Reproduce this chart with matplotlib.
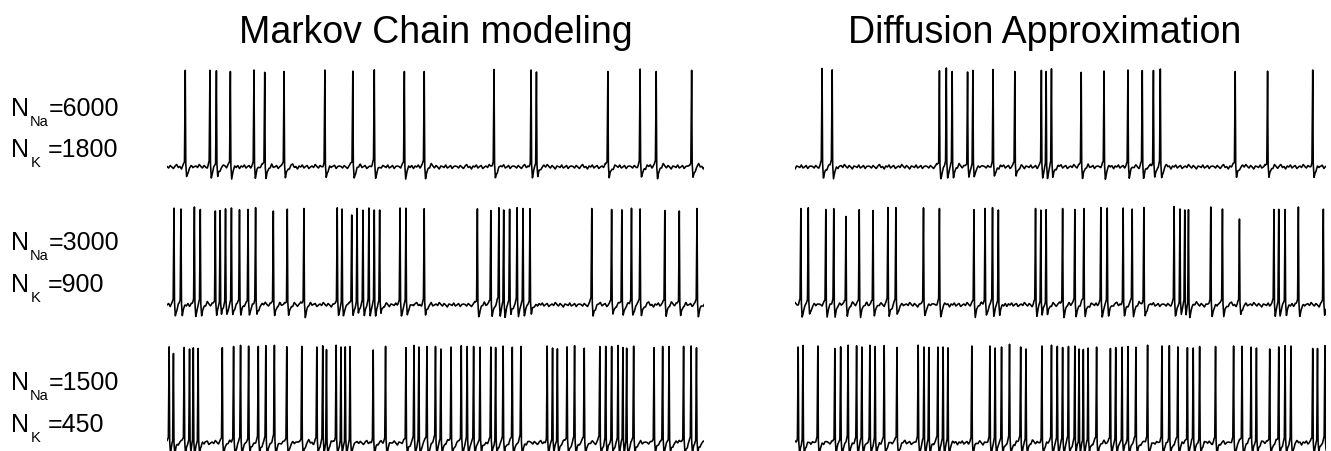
import numpy as np
import matplotlib
matplotlib.use("Agg")
import matplotlib.pyplot as plt

plt.rcParams['font.family'] = ['Liberation Sans', 'DejaVu Sans']

# spike times (ms), 1000 ms per trace
markov_6000 = [34, 80, 92, 118, 162, 182, 218, 294, 346, 386, 442, 479, 609,
               678, 688, 821, 881, 911, 977]
markov_3000 = [13, 26, 51, 62, 90, 99, 109, 120, 135, 151, 165, 198, 224, 255,
               317, 326, 344, 354, 365, 376, 386, 396, 434, 445, 479, 578, 603,
               618, 627, 638, 652, 663, 676, 791, 828, 847, 865, 881, 927, 954,
               987]
markov_1500 = [4, 12, 32, 42, 49, 58, 103, 124, 137, 152, 170, 184, 200, 223,
               251, 279, 290, 297, 315, 324, 332, 341, 384, 407, 445, 460, 469,
               484, 500, 510, 529, 548, 559, 571, 583, 603, 612, 626, 643, 659,
               708, 718, 727, 745, 759, 777, 806, 817, 828, 840, 849, 856, 869,
               907, 923, 935, 962, 976, 986]
diffusion_6000 = [51, 70, 272, 285, 296, 325, 335, 373, 414, 464, 473, 483, 539,
                  582, 627, 654, 675, 688, 829, 890, 975]
diffusion_3000 = [11, 25, 58, 73, 96, 121, 147, 175, 190, 242, 272, 337, 358,
                  372, 383, 453, 463, 473, 504, 527, 544, 576, 588, 618, 635,
                  657, 714, 725, 734, 741, 783, 805, 837, 902, 911, 923, 948, 995]
diffusion_1500 = [6, 15, 43, 75, 86, 100, 116, 126, 141, 151, 168, 192, 232, 243,
                  252, 269, 279, 288, 333, 367, 377, 389, 404, 425, 435, 465, 483,
                  494, 504, 515, 527, 535, 543, 552, 568, 594, 604, 616, 627, 642,
                  664, 691, 705, 721, 739, 750, 762, 792, 826, 842, 859, 869, 894,
                  911, 923, 934, 975, 984, 998]

# a few spikes that peak lower than the rest (time ms -> mV lower)
short_spikes = {344: 7, 96: 6, 837: 10, 12: 4, 384: 4, 575: 6}

n_na = ["6000", "3000", "1500"]
n_k = ["1800", "900", "450"]
titles = ["Markov Chain modeling", "Diffusion Approximation"]

# membrane potential shape around one spike (ms offset, mV above rest)
SPIKE_DT = [-7, -4, -1.5, 0, 1.0, 2.5, 4.5, 8, 13, 20]
SPIKE_DV = [0, 1.5, 5, 96, 2, -11, -6, -1.5, 1, 0]
REST = -65.0
# baseline jitter, hand-drawn pattern (mV)
WIGGLE = [0.5, -1.0, 1.5, 0.0, -1.5, 1.0, 2.5, -0.5, 0.5, -2.0, 1.0, 0.0,
          2.0, -1.0, 0.5, 1.5, -1.5, 0.0, 1.0, -0.5, 2.5, 0.5, -1.0, 1.5,
          0.0, -2.0, 1.0, 0.5, -0.5, 2.0, -1.0, 0.0, 1.5, -1.5, 0.5, 1.0]

t = np.arange(0, 1000.5, 0.5)


def make_trace(spikes, shift, short=None):
    knots_t = np.arange(0, 1006, 3.0)
    knots_v = np.resize(np.roll(WIGGLE, shift), len(knots_t))
    v = REST + np.interp(t, knots_t, knots_v)
    for s in spikes:
        dv = list(SPIKE_DV)
        if short and s in short:
            dv[3] -= short[s]
        v += np.interp(t - s, SPIKE_DT, dv, left=0, right=0)
    return v


W, H = 1331, 452
fig = plt.figure(figsize=(W / 100, H / 100), dpi=100)

panels = [[markov_6000, diffusion_6000],
          [markov_3000, diffusion_3000],
          [markov_1500, diffusion_1500]]
col_x = [(167, 704), (795, 1326)]
row_base = [168, 306, 444]

for r, row in enumerate(panels):
    for c, spikes in enumerate(row):
        x0, x1 = col_x[c]
        top = row_base[r] - 100
        ax = fig.add_axes([x0 / W, 1 - (top + 115) / H, (x1 - x0) / W, 115 / H])
        short = short_spikes if r > 0 else None
        ax.plot(t, make_trace(spikes, 5 * r + 11 * c, short), color='black', lw=1.15)
        ax.set_xlim(0, 1000)
        ax.set_ylim(-80, 35)
        ax.axis('off')


def px(x, y):
    return x / W, 1 - y / H


# row labels, subscripts placed by hand (baselines in pixels)
label_lines = [(116, 157), (250, 292), (390, 432)]
for r, (y1, y2) in enumerate(label_lines):
    fig.text(*px(11, y1), "N", fontsize=18, va='baseline')
    fig.text(*px(30, y1 + 10), "Na", fontsize=10.5, va='baseline')
    fig.text(*px(49, y1), "=" + n_na[r], fontsize=18, va='baseline')
    fig.text(*px(11, y2), "N", fontsize=18, va='baseline')
    fig.text(*px(31, y2 + 10), "K", fontsize=10.5, va='baseline')
    fig.text(*px(48, y2), "=" + n_k[r], fontsize=18, va='baseline')

fig.text(*px(436, 43), titles[0], fontsize=27, ha='center', va='baseline')
fig.text(*px(1045, 43), titles[1], fontsize=27, ha='center', va='baseline')

fig.savefig("out.png", dpi=100, facecolor='white')
